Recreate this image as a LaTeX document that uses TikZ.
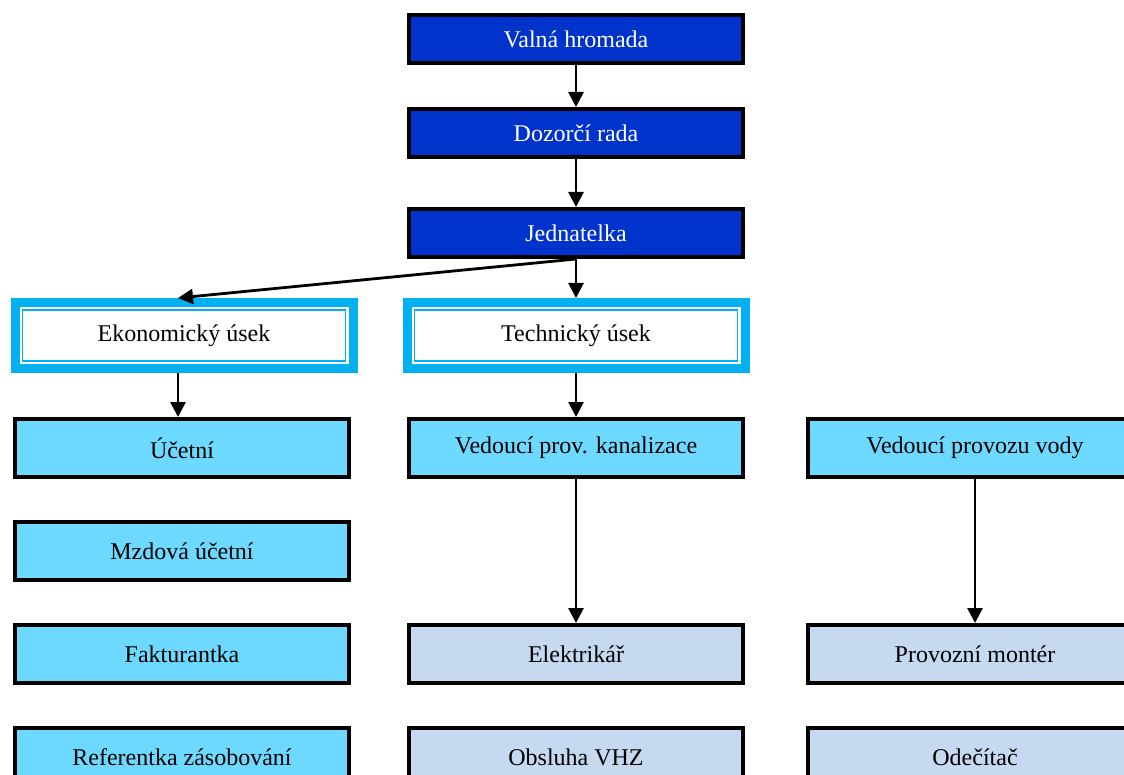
\documentclass[tikz,border=0pt]{standalone}
\usepackage{fontspec}
\setmainfont{Liberation Serif}
\usepackage{tikz}
\usetikzlibrary{arrows.meta}
\usetikzlibrary{positioning}
\definecolor{vedeni}{HTML}{0033CC}
\definecolor{usek}{HTML}{00B0F0}
\definecolor{pracovnik}{HTML}{6DD9FF}
\definecolor{provoz}{HTML}{C6D9F0}
\tikzset{link/.style={-{Triangle[length=15pt,width=15pt]}, line width=2.8pt}}

\begin{document}
\begin{tikzpicture}[font=\fontsize{24}{29}\selectfont]
\tikzstyle{top} = [draw=black, line width=4pt, fill=vedeni, text=white, minimum width=334pt, minimum height=48pt]
\tikzstyle{section} = [draw=usek, line width=9pt, fill=white, minimum width=338pt, minimum height=66pt,
  path picture={\draw[usek, line width=1.5pt] ([shift={(7.5pt,-7.5pt)}]path picture bounding box.north west) rectangle ([shift={(-7.5pt,7.5pt)}]path picture bounding box.south east);}]
\tikzstyle{staff} = [draw=black, line width=4pt, fill=pracovnik, minimum width=334pt, minimum height=58pt]
\tikzstyle{worker} = [staff, fill=provoz]

\clip (0pt,0pt) rectangle (1124pt,-775pt);

\node[top] (VH) at (576pt,-39pt) {Valná hromada};
\node[top] (DR) [below = 42pt of VH] {Dozorčí rada};
\node[top] (JED) [below = 48pt of DR] {Jednatelka};

\node[section] (TECH) [below = 39pt of JED] {Technický úsek};
\node[section] (EKO) [left = 45pt of TECH] {Ekonomický úsek};

\node[staff] (VPK) [below = 44pt of TECH] {Vedoucí prov. kanalizace};
\node[staff] (UC) [left = 56pt of VPK] {Účetní};
\node[staff] (VPV) [right = 61pt of VPK] {Vedoucí provozu vody};

\node[staff] (MZ) [below = 41pt of UC] {Mzdová účetní};
\node[staff] (FAK) [below = 41pt of MZ] {Fakturantka};
\node[staff] (REF) [below = 41pt of FAK] {Referentka zásobování};

\node[worker] (ELE) [below = 144pt of VPK] {Elektrikář};
\node[worker] (OBS) [below = 41pt of ELE] {Obsluha VHZ};
\node[worker] (PM) [below = 144pt of VPV] {Provozní montér};
\node[worker] (ODE) [below = 41pt of PM] {Odečítač};

\draw[link] (VH) -- (DR);
\draw[link] (DR) -- (JED);
\draw[link] (JED.south) -- ([xshift=-6pt]EKO.north);
\draw[link] (JED) -- (TECH);
\draw[link] ([xshift=-6pt]EKO.south) -- ([xshift=-6pt]EKO.south |- UC.north);
\draw[link] (TECH) -- (VPK);
\draw[link] (VPK) -- (ELE);
\draw[link] (VPV) -- (PM);
\end{tikzpicture}
\end{document}
